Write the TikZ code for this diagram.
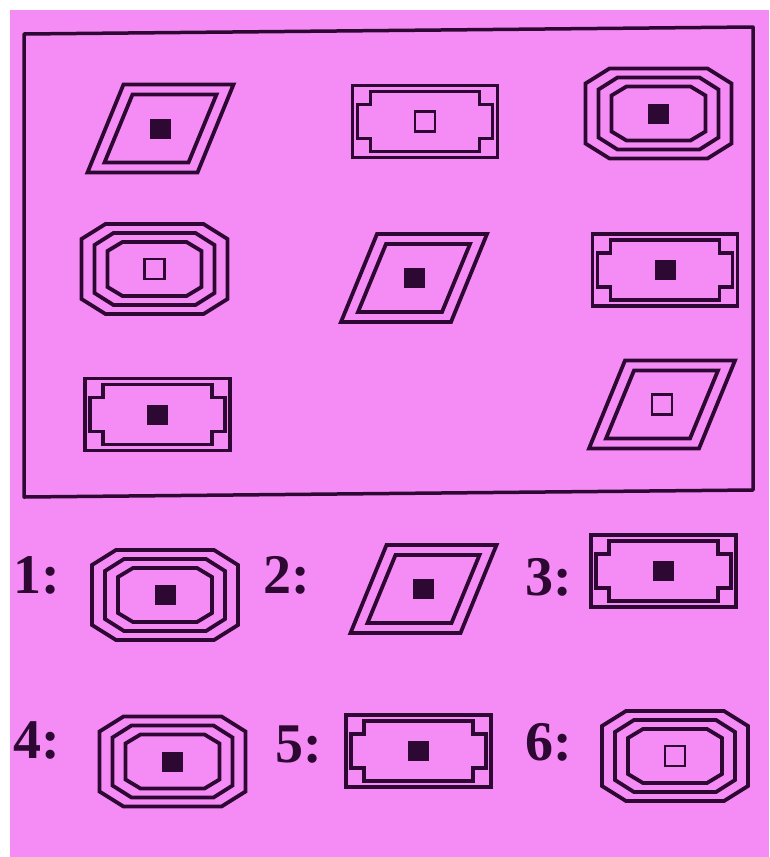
\documentclass[tikz,border=0pt]{standalone}
\usepackage{fontspec}
\setmainfont{Liberation Serif}
\definecolor{bgpink}{RGB}{245,140,245}
\definecolor{ink}{RGB}{45,8,50}
\tikzset{
  sh/.style={draw=ink, line width=3.8pt, line join=miter},
  oct/.pic={
    \foreach \pa/\pb/\pc/\pd in {73/45/24/15,60/36/19/12,47/27/15/9}
      \draw[sh] (-\pa+\pc,-\pb) -- (\pa-\pc,-\pb) -- (\pa,-\pb+\pd) -- (\pa,\pb-\pd) -- (\pa-\pc,\pb) -- (-\pa+\pc,\pb) -- (-\pa,\pb-\pd) -- (-\pa,-\pb+\pd) -- cycle;
  },
  par/.pic={
    \draw[sh] (-37,-44) -- (73,-44) -- (37,44) -- (-73,44) -- cycle;
    \draw[sh] (-28,-34) -- (56,-34) -- (28,34) -- (-56,34) -- cycle;
  },
  rn/.pic={
    \draw[sh] (-72.5,-36) rectangle (72.5,36);
    \draw[sh] (-54.5,-30) -- (54.5,-30) -- (54.5,-17) -- (67.5,-17) -- (67.5,17) -- (54.5,17) -- (54.5,30) -- (-54.5,30) -- (-54.5,17) -- (-67.5,17) -- (-67.5,-17) -- (-54.5,-17) -- cycle;
  },
  fsq/.pic={\fill[ink] (-10.5,-10) rectangle (10.5,10);},
  hsq/.pic={\draw[ink, line width=2.5pt] (-10,-10) rectangle (10,10);},
  lab/.style={anchor=base west, inner sep=0pt, text=ink, font=\bfseries\fontsize{56}{56}\selectfont},
  frame/.style={draw=ink, line width=3.5pt, line join=round},
}
\begin{document}
\begin{tikzpicture}[x=1pt,y=-1pt]
\fill[white] (0,0) rectangle (769,857);
\fill[bgpink] (10,10) rectangle (769,857);
\useasboundingbox (0,0) rectangle (769,857);
\draw[frame] (24,34) -- (753,27) -- (753,490) -- (24,497) -- cycle;
% row 1
\pic at (160.5,128.5) {par}; \pic at (160.5,128.5) {fsq};
\pic at (425,121.5) {rn};    \pic at (425,121.5) {hsq};
\pic at (658.5,113.5) {oct}; \pic at (658.5,113.5) {fsq};
% row 2
\pic at (154.5,269) {oct};   \pic at (154.5,269) {hsq};
\pic at (414,278) {par};     \pic at (414,278) {fsq};
\pic at (665,270) {rn};      \pic at (665,270) {fsq};
% row 3
\pic at (157.5,414.5) {rn};  \pic at (157.5,414.5) {fsq};
\pic at (662,404.5) {par};   \pic at (662,404.5) {hsq};
% answers
\node[lab] (l1) at (13,593) {1:};
\node[lab] (l2) at (263,593) {2:};
\node[lab] (l3) at (525,595) {3:};
\node[lab] (l4) at (13,758) {4:};
\node[lab] (l5) at (275,762) {5:};
\node[lab] (l6) at (525,760) {6:};
\pic at (165,595) {oct};     \pic at (165,595) {fsq};
\pic at (423.5,589) {par};   \pic at (423.5,589) {fsq};
\pic at (663.5,571) {rn};    \pic at (663.5,571) {fsq};
\pic at (172.5,761.5) {oct}; \pic at (172.5,761.5) {fsq};
\pic at (418.5,751) {rn};    \pic at (418.5,751) {fsq};
\pic at (675,756) {oct};     \pic at (675,756) {hsq};
\end{tikzpicture}
\end{document}
